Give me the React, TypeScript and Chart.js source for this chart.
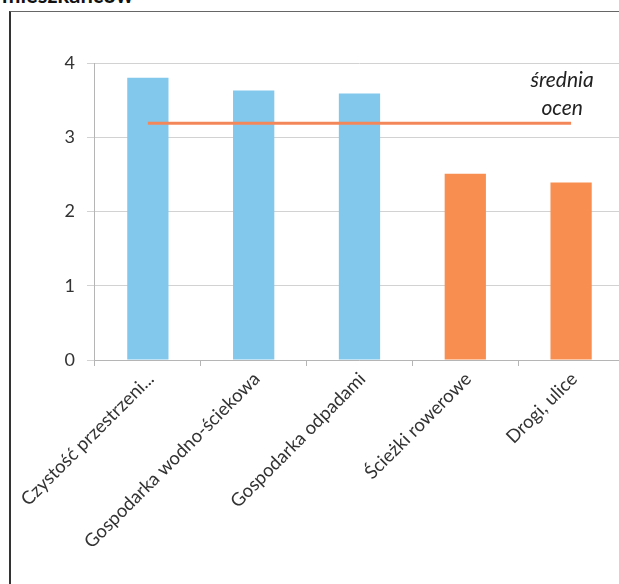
import React, { useEffect, useRef } from "react";
import { Chart, registerables } from "chart.js";
Chart.register(...registerables);

const categories = [
  "Czystość przestrzeni...",
  "Gospodarka wodno-ściekowa",
  "Gospodarka odpadami",
  "Ścieżki rowerowe",
  "Drogi, ulice",
];
const scores = [3.8, 3.63, 3.59, 2.51, 2.39];
const averageScore = [3.19, 3.19, 3.19, 3.19, 3.19];
const barColors = ["#82c7ec", "#82c7ec", "#82c7ec", "#f88f51", "#f88f51"];
const averageLabel = ["średnia", "ocen"];
const titleText = "mieszkańców";

const avgLabelPlugin = {
  id: "avgLabel",
  afterDatasetsDraw(chart: any) {
    const { ctx, scales } = chart;
    const x = scales.x;
    const y = scales.y;
    const last = categories.length - 1;
    const px = x.getPixelForValue(last) - 9;
    const py = y.getPixelForValue(averageScore[last]);
    ctx.save();
    ctx.font = "italic 21px Lato";
    ctx.fillStyle = "#222";
    ctx.textAlign = "center";
    ctx.textBaseline = "alphabetic";
    ctx.fillText(averageLabel[0], px, py - 36);
    ctx.fillText(averageLabel[1], px, py - 8);
    ctx.restore();
  },
};

export default function App() {
  const ref = useRef<HTMLCanvasElement>(null);
  useEffect(() => {
    if (!ref.current) return;
    const chart = new Chart(ref.current, {
      type: "bar",
      data: {
        labels: categories,
        datasets: [
          {
            type: "line",
            data: averageScore,
            borderColor: "#f4875a",
            borderWidth: 3,
            pointRadius: 0,
            order: 0,
          } as any,
          {
            type: "bar",
            data: scores,
            backgroundColor: barColors,
            categoryPercentage: 1,
            barPercentage: 0.39,
            order: 1,
          },
        ],
      },
      options: {
        responsive: false,
        devicePixelRatio: 1,
        animation: false,
        layout: { padding: { top: 50, right: 7, left: 0, bottom: 0 } },
        plugins: { legend: { display: false }, tooltip: { enabled: false } },
        scales: {
          x: {
            afterFit: (s: any) => {
              s.height = 224;
            },
            grid: {
              offset: true,
              drawOnChartArea: false,
              tickLength: 6,
              color: "#b5b5b5",
            },
            border: { color: "#b5b5b5" },
            ticks: {
              autoSkip: false,
              maxRotation: 45,
              minRotation: 45,
              color: "#333",
              font: { family: "Lato", size: 18.5 },
              padding: 2,
              labelOffset: 3,
            },
          },
          y: {
            min: 0,
            max: 4,
            afterFit: (s: any) => {
              s.width = 83;
            },
            grid: { color: "#d2d2d2", tickLength: 8 },
            border: { color: "#b5b5b5" },
            ticks: {
              stepSize: 1,
              color: "#333",
              font: { family: "Lato", size: 18 },
              padding: 12,
            },
          },
        },
      },
      plugins: [avgLabelPlugin],
    });
    return () => chart.destroy();
  }, []);

  return (
    <div
      style={{
        position: "fixed",
        left: 0,
        top: 0,
        width: 619,
        height: 584,
        overflow: "hidden",
        background: "#fff",
      }}
    >
      <div
        style={{
          position: "absolute",
          left: 2,
          top: -16,
          fontFamily: "Lato",
          fontWeight: 700,
          fontSize: 22,
          lineHeight: "22px",
          color: "#111",
          whiteSpace: "nowrap",
        }}
      >
        {titleText}
      </div>
      <div
        style={{
          position: "absolute",
          left: 9,
          top: 11,
          width: 700,
          height: 700,
          borderLeft: "2px solid #333",
          borderTop: "1px solid #666",
        }}
      />
      <canvas
        ref={ref}
        width={620}
        height={571}
        style={{ position: "absolute", left: 11, top: 13, width: 620, height: 571 }}
      />
    </div>
  );
}
